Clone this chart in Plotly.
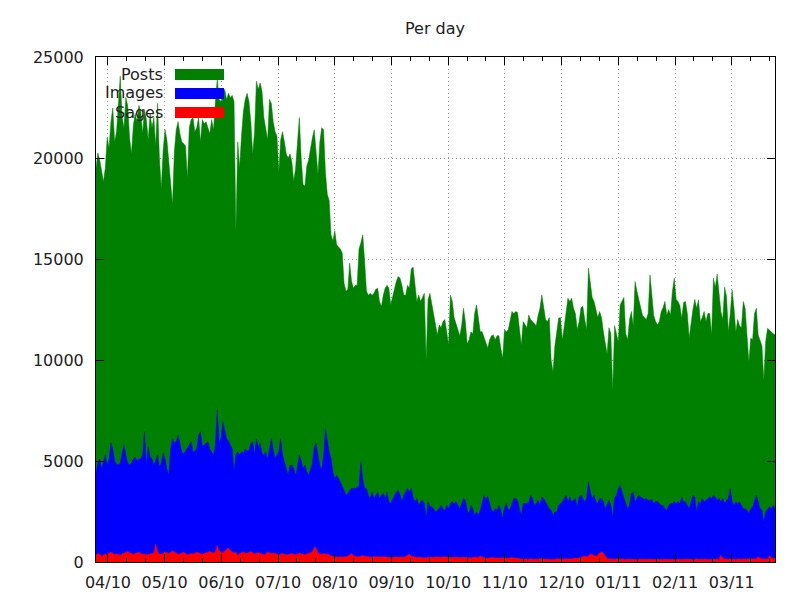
import pandas as pd
import plotly.graph_objects as go

start_date = "2010-03-26"
tick_labels = ["04/10", "05/10", "06/10", "07/10", "08/10", "09/10",
               "10/10", "11/10", "12/10", "01/11", "02/11", "03/11"]

posts = [
    19500, 20250, 19900, 19300, 18840, 19500, 21000, 20500, 21800, 22480,
    20800, 21300, 22500, 24050, 22000, 21500, 23000, 22600, 21000, 20200,
    21600, 22200, 21800, 22600, 22300, 21200, 22400, 21900, 20900, 22200,
    21500, 22000, 20600, 22700, 20000, 18500, 20400, 21400, 20900, 20000,
    18800, 17700, 20300,
    21400, 21800, 21200, 20800, 20700, 20600, 19000, 21500, 21900, 22000,
    21300, 21500, 22000, 20800, 21900, 21700, 21800, 21500, 21200, 21900,
    21400, 22800, 23900, 22900, 22800, 23100, 23400, 22900, 23200, 23000,
    23100, 22800, 16400, 20800, 19500, 21100, 22300, 22900, 23200, 22800,
    21800, 20200, 21300, 23800, 23400,
    23720, 23300, 22000, 21500, 20900, 22900, 22700, 21800, 21300, 21100,
    19300, 20900, 21300, 20800, 20200, 20000, 20200, 19800, 18850, 19500,
    20600, 22000, 20000, 18700, 18600, 19600, 19900, 20500, 21000, 21400,
    20200, 19200, 20800, 21500, 21400, 19300, 18200, 17900, 16200, 15900,
    16400, 15700, 15600, 15500, 15300, 13800,
    13400, 13500, 14800, 13900, 13550, 13700, 13700, 15500, 15800, 16200,
    14900, 13400, 13200, 13300, 13200, 13300, 13500, 13550, 12900, 12650,
    13200, 13550, 13700, 13550, 12730, 13100, 13550, 13900, 14130, 14050,
    13700, 13220, 13200, 13700, 13550, 14500, 14600, 13550, 12900, 13220,
    12900, 13100, 13300, 10000, 13000, 13300,
    12810, 12400, 11900, 11240, 11740, 11600, 11900, 12000, 11400, 10740,
    13220, 12900, 12100, 11800, 11400, 11200, 11700, 12560, 11900, 10800,
    11000, 11400, 11300, 12300, 12730, 11900, 11400, 11400, 11100, 10800,
    10600, 11000, 11200, 11240, 11000, 11200, 11200, 10600, 10080, 11500,
    11400, 11500, 11900, 12400, 12300,
    12400, 12350, 11500, 10740, 11900, 11740, 11600, 12230, 12000, 11900,
    11800, 11700, 12200, 12560, 13220, 12600, 12000, 11900, 12100, 10000,
    9420, 10700, 11400, 12070, 12100, 11000, 11650, 12400, 13060, 12900,
    13060, 12560, 12300, 11500, 11900, 12600, 12650, 12000, 11500, 14540,
    13700, 13100, 12900, 12560, 12100, 12400,
    12100, 11400, 10750, 10300, 11600, 11300, 8500, 11700, 11300, 10900,
    12730, 12890, 13100, 11300, 11000, 12000, 12400, 11700, 13880, 13400,
    13000, 12560, 12200, 12100, 12000, 12300, 14210, 13220, 12200, 11900,
    11750, 11900, 12400, 12600, 12900, 12230, 12500, 12230, 13400, 14050,
    13000, 12900, 12700, 12070, 12850,
    12900, 12300, 11100, 11900, 12500, 13000, 12560, 12980, 11900, 12100,
    12400, 11900, 12300, 12300, 11240, 14050, 13600, 14250, 13200, 12400,
    12000, 13600, 13150, 11400, 12300, 13470, 12600, 11400, 12000, 11700,
    11600, 12890, 12560, 10900, 9900, 11080, 11000, 12300, 12560, 11240,
    10900, 10700, 9000, 10910, 11570, 11500, 11400, 11300, 11250,
]

images = [
    4400, 4900, 5100, 4600, 4950, 5300, 4800, 5100, 5900, 5600,
    5000, 4850, 4800, 4900, 5400, 5800, 5300, 4900, 4800, 4900,
    5100, 5200, 5000, 5100, 5100, 5300, 6450, 4800, 5700, 5200,
    5100, 4800, 5000, 5300, 4700, 4900, 5400, 5100, 4600, 4300,
    5600, 6100, 5900,
    5950, 6280, 5800, 5450, 5350, 5500, 5600, 5800, 5950, 5450,
    5500, 5600, 6280, 6450, 5700, 5800, 5900, 5950, 5600, 5450,
    5300, 5800, 7520, 5950, 6100, 6940, 6600, 6120, 6000, 5800,
    5600, 4460, 5300, 5450, 5300, 5450, 5400, 5600, 5500, 5500,
    5870, 5950, 5300, 6100, 5700,
    5870, 5400, 5290, 5450, 5100, 5700, 6120, 5550, 5150, 5290,
    5450, 6120, 5290, 4960, 4600, 4300, 4790, 4790, 4630, 4300,
    4700, 5290, 5040, 4630, 4790, 4460, 4300, 4630, 4880, 5700,
    5870, 5300, 4790, 4550, 5290, 6600, 5950, 5450, 5120, 4460,
    4130, 4300, 4150, 3970, 3800, 3550,
    3300, 3390, 3550, 3640, 3640, 3640, 3700, 3720, 4960, 4100,
    3640, 3640, 3310, 3140, 3470, 3140, 3310, 3470, 3140, 3310,
    3390, 3140, 3470, 2980, 2900, 3140, 3310, 3470, 3550, 3310,
    2980, 3300, 3470, 3640, 3470, 3640, 3200, 2980, 3140, 2810,
    2980, 3060, 2900, 2150, 2980, 2730,
    2730, 2640, 2480, 2560, 2640, 2810, 2640, 2560, 2810, 2640,
    2890, 2980, 2890, 2980, 2810, 2640, 2890, 3140, 3060, 2560,
    2400, 2800, 2640, 2310, 2480, 2310, 2560, 2980, 3300, 3100,
    3250, 2900, 2600, 2480, 2640, 2560, 2810, 2560, 2150, 2700,
    2900, 2600, 2600, 2900, 3140,
    3140, 3060, 2640, 2310, 2890, 2890, 2900, 2950, 3300, 3140,
    2810, 2890, 3060, 2810, 3220, 3140, 2980, 2810, 2640, 2560,
    2310, 2480, 2480, 2810, 2890, 2980, 3140, 3310, 2980, 3220,
    2980, 3060, 3140, 2730, 3220, 3310, 3140, 2980, 3140, 3970,
    3470, 3140, 3310, 2980, 2890, 3140,
    3140, 2980, 2640, 2890, 3060, 2810, 2230, 3140, 3300, 3640,
    3800, 3470, 3140, 2900, 2640, 2810, 3390, 3470, 2980, 3140,
    3300, 3220, 3140, 3100, 3140, 3060, 3060, 3100, 2890, 2980,
    3000, 2890, 2810, 2800, 2640, 2560, 2810, 2890, 2890, 2980,
    2900, 2980, 2890, 3220, 2980,
    2980, 2810, 2640, 2980, 3300, 3220, 2480, 2980, 2890, 3140,
    2980, 3060, 3140, 3220, 3140, 3310, 3220, 3060, 3140, 2980,
    3140, 2890, 3060, 3140, 3640, 2980, 2810, 2980, 2890, 2980,
    2810, 2640, 2640, 2560, 2400, 2640, 2730, 3060, 3310, 2980,
    2640, 2560, 1980, 2480, 2640, 2730, 2640, 2810, 2640,
]

sages = [
    350, 420, 380, 300, 340, 400, 360, 450, 480, 420,
    380, 400, 350, 330, 400, 430, 480, 520, 450, 400,
    380, 420, 460, 480, 420, 380, 400, 350, 370, 390,
    420, 440, 880, 520, 400, 380, 430, 500, 460, 420,
    480, 550, 500,
    420, 380, 400, 450, 480, 420, 360, 380, 420, 400,
    450, 480, 440, 400, 380, 420, 460, 500, 520, 480,
    440, 500, 820, 560, 480, 450, 520, 600, 700, 560,
    500, 450, 480, 300, 420, 460, 500, 440, 420, 480,
    520, 450, 400, 440, 460,
    420, 380, 360, 400, 500, 460, 420, 440, 400, 380,
    360, 400, 420, 380, 350, 360, 400, 420, 380, 360,
    400, 440, 400, 380, 360, 400, 420, 460, 500, 740,
    680, 450, 400, 380, 420, 400, 380, 360, 300, 280,
    260, 250, 240, 260, 230, 250,
    250, 280, 350, 420, 300, 280, 260, 250, 300, 320,
    280, 260, 240, 250, 230, 260, 250, 240, 230, 250,
    260, 240, 250, 230, 220, 240, 260, 250, 230, 240,
    250, 220, 260, 300, 380, 280, 250, 230, 220, 240,
    230, 210, 220, 200, 230, 220,
    220, 230, 250, 240, 220, 230, 260, 250, 240, 220,
    200, 220, 240, 230, 210, 200, 220, 230, 240, 220,
    210, 200, 230, 250, 240, 220, 300, 240, 220, 200,
    190, 210, 230, 220, 200, 190, 180, 200, 210, 220,
    200, 190, 210, 220, 200,
    200, 180, 160, 150, 140, 160, 150, 140, 150, 160,
    140, 130, 150, 160, 170, 150, 140, 130, 150, 140,
    120, 130, 150, 160, 140, 150, 160, 170, 180, 160,
    150, 170, 200, 180, 190, 220, 260, 300, 250, 280,
    400, 350, 300, 280, 320, 450,
    500, 450, 300, 180, 150, 140, 130, 140, 150, 130,
    140, 150, 130, 120, 140, 130, 150, 140, 130, 120,
    140, 130, 150, 140, 130, 140, 150, 130, 120, 140,
    130, 120, 130, 140, 150, 130, 120, 140, 130, 120,
    130, 140, 150, 130, 140,
    130, 140, 150, 130, 120, 140, 150, 130, 140, 150,
    130, 140, 120, 130, 150, 140, 130, 150, 140, 330,
    200, 150, 130, 140, 150, 130, 140, 120, 150, 130,
    140, 150, 130, 140, 160, 150, 140, 130, 150, 260,
    180, 150, 140, 160, 150, 300, 220, 160, 200,
]

series = [("Posts", posts, "#008000"),
          ("Images", images, "#0000ff"),
          ("Sages", sages, "#ff0000")]

dates = pd.date_range(start_date, periods=len(posts), freq="D")

fig = go.Figure()
for name, vals, color in series:
    fig.add_trace(go.Scatter(
        x=dates[:len(vals)], y=vals, mode="lines", name=name,
        fill="tozeroy", fillcolor=color,
        line=dict(color=color, width=0.5),
        showlegend=False, hoverinfo="skip"))

FONT = "DejaVu Sans"
TXT = "#222222"

t0 = pd.Timestamp(start_date) + pd.Timedelta(days=6.4)
step = 30.4
fmt = "%Y-%m-%d %H:%M:%S"
major = [(t0 + pd.Timedelta(days=step * k)).strftime(fmt) for k in range(len(tick_labels))]
minor = [(t0 + pd.Timedelta(days=step * k / 3)).strftime(fmt) for k in range(0, 36) if k % 3]

fig.update_xaxes(
    type="date",
    range=[dates[0], dates[-1]],
    tickmode="array", tickvals=major, ticktext=tick_labels,
    ticks="inside", ticklen=8, tickwidth=1, tickcolor="black",
    minor=dict(tickmode="array", tickvals=minor, ticks="inside", ticklen=4,
               tickwidth=1, tickcolor="black", showgrid=False),
    showline=True, linecolor="black", linewidth=1, mirror="ticks",
    showgrid=True, gridcolor="#9a9a9a", gridwidth=1, griddash="1px,3px",
    zeroline=False, automargin=False,
    tickfont=dict(family=FONT, size=16, color=TXT),
    ticklabelstandoff=6,
)
fig.update_yaxes(
    range=[0, 25000],
    tickmode="array", tickvals=[0, 5000, 10000, 15000, 20000, 25000],
    ticktext=["0", "5000", "10000", "15000", "20000", "25000"],
    ticks="inside", ticklen=8, tickwidth=1, tickcolor="black",
    showline=True, linecolor="black", linewidth=1, mirror="ticks",
    showgrid=True, gridcolor="#9a9a9a", gridwidth=1, griddash="1px,3px",
    zeroline=False, automargin=False,
    tickfont=dict(family=FONT, size=16, color=TXT),
    ticklabelstandoff=8,
)

# the page body adds an 8px offset; compensate so the plot box lands at 96..775 x 57..562
OFF = 8
key_y = [(74, 69, 80), (93, 88, 99), (112, 107, 118)]
W, H, L, B = 679.0, 505.0, 96.0, 562.0
annotations = []
shapes = []
for (name, vals, color), (ty, y_top, y_bot) in zip(series, key_y):
    annotations.append(dict(
        text=name, xref="paper", yref="paper",
        x=(165 - L) / W, y=(B - ty) / H, xanchor="right", yanchor="middle",
        showarrow=False, font=dict(family=FONT, size=16, color=TXT)))
    shapes.append(dict(
        type="rect", xref="paper", yref="paper", layer="above",
        x0=(175 - L) / W, x1=(224 - L) / W,
        y0=(B - y_bot) / H, y1=(B - y_top) / H,
        fillcolor=color, line=dict(width=0)))

fig.update_layout(
    width=800, height=600,
    margin=dict(l=96 - OFF, r=25 + OFF, t=57 - OFF, b=38 + OFF),
    paper_bgcolor="white", plot_bgcolor="white",
    title=dict(text="Per day", x=(435 - OFF) / 800, xanchor="center",
               y=1 - (28 - OFF) / 600, yanchor="middle",
               font=dict(family=FONT, size=16, color=TXT)),
    annotations=annotations, shapes=shapes,
    showlegend=False,
)

fig.write_html("out.html")
